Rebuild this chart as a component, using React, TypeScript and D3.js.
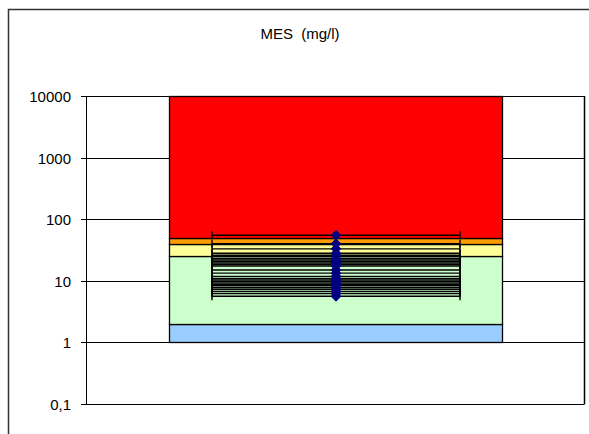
import React from "react";
import * as d3 from "d3";

const title = "MES  (mg/l)";
const tickValues = [0.1, 1, 10, 100, 1000, 10000];
const tickLabels = ["0,1", "1", "10", "100", "1000", "10000"];
// Quality class bands (lower, upper)
const bandLower = [1, 2, 25, 40, 50];
const bandUpper = [2, 25, 40, 50, 10000];
const bandColors = ["#99CCFF", "#CCFFCC", "#FFFF99", "#FF9900", "#FF0000"];
// Measured values
const measures = [
  55, 40, 33, 28, 26, 23, 21.8, 20.6, 19.5, 18.4, 17.4, 15, 13.3, 11.8, 10.9,
  10.3, 9.8, 9.2, 8.7, 8.3, 7.7, 7.25, 6.7, 6.2, 5.6,
];

const W = 589;
const H = 434;
const plot = { left: 86, right: 584, top: 96, bottom: 404 };

export default function App() {
  const y = d3
    .scaleLog()
    .domain([0.1, 10000])
    .range([plot.bottom, plot.top]);
  const bx0 = 169;
  const bx1 = 502;
  const cx = 336;
  const errHalf = 124;

  return (
    <svg
      width={W}
      height={H}
      style={{ position: "absolute", left: 0, top: 0 }}
      fontFamily="'Liberation Sans', Arial, sans-serif"
    >
      <rect x={0} y={0} width={W} height={H} fill="#fff" />
      <rect
        x={8.5}
        y={9.5}
        width={620}
        height={460}
        fill="none"
        stroke="#333"
        strokeWidth={1.5}
      />
      <text
        x={300}
        y={39}
        textAnchor="middle"
        fontSize={15}
        fill="#000"
        style={{ whiteSpace: "pre" }}
      >
        {title}
      </text>
      {/* gridlines */}
      {tickValues.map((v, i) => (
        <g key={i}>
          <line
            x1={plot.left - 5}
            x2={plot.right}
            y1={Math.round(y(v)) + 0.5}
            y2={Math.round(y(v)) + 0.5}
            stroke="#000"
            strokeWidth={1}
          />
          <text
            x={71}
            y={Math.round(y(v)) + 6}
            textAnchor="end"
            fontSize={15}
            fill="#000"
          >
            {tickLabels[i]}
          </text>
        </g>
      ))}
      {/* bands */}
      {bandLower.map((lo, i) => (
        <rect
          key={i}
          x={bx0 + 0.5}
          y={Math.round(y(bandUpper[i])) + 0.5}
          width={bx1 - bx0}
          height={Math.round(y(lo)) - Math.round(y(bandUpper[i]))}
          fill={bandColors[i]}
          stroke="#000"
          strokeWidth={1.3}
        />
      ))}
      {/* axes borders */}
      <line
        x1={plot.left + 0.5}
        x2={plot.left + 0.5}
        y1={plot.top}
        y2={plot.bottom}
        stroke="#000"
      />
      <line
        x1={plot.right + 0.5}
        x2={plot.right + 0.5}
        y1={plot.top}
        y2={plot.bottom + 0.5}
        stroke="#000"
        strokeWidth={1.5}
      />
      {/* error bars */}
      {measures.map((v, i) => {
        const yy = y(v);
        return (
          <g key={"e" + i}>
            <line
              x1={cx - errHalf}
              x2={cx + errHalf}
              y1={yy}
              y2={yy}
              stroke="#000"
              strokeWidth={1.4}
            />
            <line
              x1={cx - errHalf}
              x2={cx - errHalf}
              y1={yy - 4}
              y2={yy + 4}
              stroke="#000"
              strokeWidth={1.4}
            />
            <line
              x1={cx + errHalf}
              x2={cx + errHalf}
              y1={yy - 4}
              y2={yy + 4}
              stroke="#000"
              strokeWidth={1.4}
            />
          </g>
        );
      })}
      {/* markers */}
      {measures.map((v, i) => {
        const yy = y(v);
        const s = 4.5;
        return (
          <path
            key={"m" + i}
            d={`M${cx},${yy - s}L${cx + s},${yy}L${cx},${yy + s}L${cx - s},${yy}Z`}
            fill="#000080"
            stroke="#000080"
            strokeWidth={1.2}
          />
        );
      })}
    </svg>
  );
}
